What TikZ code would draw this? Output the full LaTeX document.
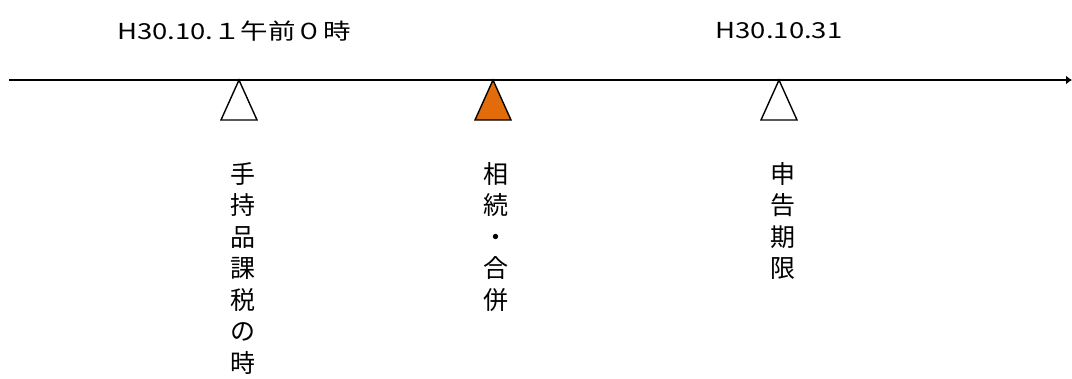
\documentclass[tikz,border=0pt]{standalone}
\usepackage{fontspec}
\newfontfamily\jpsans[FakeStretch=1.25]{Noto Sans CJK JP}
\newfontfamily\jpcol{Noto Sans CJK JP}
\usetikzlibrary{arrows.meta}
\definecolor{markorange}{HTML}{E36C0A}
\tikzset{
  datelabel/.style={font=\jpsans\fontsize{22}{26}\selectfont, inner sep=0pt},
  eventlabel/.style={font=\jpcol\fontsize{25}{31.5}\selectfont, align=center, anchor=north, inner sep=0pt},
  marker/.style={draw=black, line width=1.4pt, line join=miter}
}
\begin{document}
\begin{tikzpicture}[x=1pt, y=-1pt]
        \useasboundingbox (0,0) rectangle (1072,378);

        % time axis
        \coordinate (start) at (9,80);
        \coordinate (end) at (1072,80);
        \draw[line width=1.4pt, -{Latex[length=6pt, width=9pt]}] (start) -- (end);

        % dates
        \node[datelabel] (d1) at (234,31) {H30.10.１午前０時};
        \node[datelabel] (d2) at (779,31) {H30.10.31};

        % markers
        \coordinate (m1) at (239,80);
        \coordinate (m2) at (493,80);
        \coordinate (m3) at (779,80);
        \draw[marker, fill=white] (m1) -- ++(18,40) -- ++(-36,0) -- cycle;
        \draw[marker, fill=markorange] (m2) -- ++(18,40) -- ++(-36,0) -- cycle;
        \draw[marker, fill=white] (m3) -- ++(18,40) -- ++(-36,0) -- cycle;

        % events
        \node[eventlabel] (e1) at (243,162) {手\\持\\品\\課\\税\\の\\時};
        \node[eventlabel] (e2) at (496,162) {相\\続\\・\\合\\併};
        \node[eventlabel] (e3) at (783,162) {申\\告\\期\\限};
      \end{tikzpicture}
\end{document}
